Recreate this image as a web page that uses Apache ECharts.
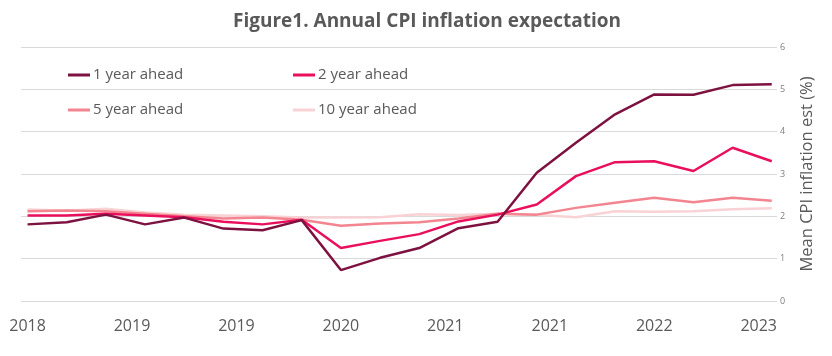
<!DOCTYPE html>
<html>
<head>
<meta charset="utf-8">
<script src="https://cdn.jsdelivr.net/npm/echarts@6/dist/echarts.min.js"></script>
<style>
html,body{margin:0;padding:0;background:#fff;}
#chart{width:832px;height:356px;}
</style>
</head>
<body>
<div id="chart"></div>
<script>
// Quarterly observations, x in months from the first observation
const xMonths = [0,3,6,9,12,15,18,21,24,27,30,33,36,39,42,45,48,51,54,57];
const tickPositions = [0,8,16,24,32,40,48,56];
const tickLabels = ['2018','2019','2019','2020','2021','2021','2022','2023'];
const seriesNames = ['1 year ahead','2 year ahead','5 year ahead','10 year ahead'];
const oneYear  = [1.81,1.86,2.04,1.81,1.97,1.71,1.67,1.91,0.73,1.02,1.25,1.72,1.87,3.03,3.74,4.41,4.88,4.87,5.10,5.12];
const twoYear  = [2.02,2.02,2.06,2.02,1.98,1.87,1.81,1.92,1.25,1.42,1.58,1.88,2.04,2.28,2.95,3.28,3.30,3.07,3.62,3.30];
const fiveYear = [2.12,2.14,2.12,2.06,2.00,1.95,1.97,1.92,1.78,1.83,1.86,1.95,2.06,2.04,2.20,2.32,2.44,2.33,2.44,2.37];
const tenYear  = [2.16,2.13,2.18,2.09,2.04,2.02,2.00,1.97,1.97,1.98,2.05,2.03,2.06,2.04,1.98,2.12,2.11,2.12,2.17,2.19];
const yTicks = [0,1,2,3,4,5,6];

const colors = ['#7d1241','#ea0f5c','#f2858f','#f9d2d5'];
const values = [oneYear, twoYear, fiveYear, tenYear];
const FONT = '"Open Sans", "Noto Sans", sans-serif';

function pairs(arr){ return arr.map((v,i)=>[xMonths[i], v]); }

const legendPos = [
  {left:68, top:66},
  {left:293, top:66},
  {left:68, top:101},
  {left:293, top:101}
];

const chart = echarts.init(document.getElementById('chart'), null, {renderer:'canvas'});
chart.setOption({
  animation:false,
  backgroundColor:'#ffffff',
  title:{
    text:'Figure1. Annual CPI inflation expectation',
    left:228, top:7,
    textStyle:{fontFamily:FONT, fontSize:19, fontWeight:'bold', color:'#595959'}
  },
  legend: seriesNames.map((n,i)=>({
    data:[n],
    left:legendPos[i].left, top:legendPos[i].top,
    padding:0,
    icon:'rect', itemWidth:22, itemHeight:3,
    textStyle:{fontFamily:FONT, fontSize:15, color:'#595959', lineHeight:18, padding:[0,0,0,-2]}
  })),
  grid:{left:21, right:55, top:47, bottom:55, containLabel:false},
  xAxis:{
    type:'value', min:-0.5, max:57.4,
    axisLine:{show:false}, axisTick:{show:false}, splitLine:{show:false},
    axisLabel:{
      customValues: tickPositions,
      formatter:(v)=>{ const k = tickPositions.indexOf(Math.round(v)); return k>=0 ? tickLabels[k] : ''; },
      fontFamily:FONT, fontSize:16, color:'#595959', margin:17
    }
  },
  yAxis:{
    type:'value', position:'right', min:yTicks[0], max:yTicks[yTicks.length-1], interval:1,
    axisLine:{show:false}, axisTick:{show:false},
    splitLine:{lineStyle:{color:'#d9d9d9', width:1}},
    axisLabel:{fontFamily:FONT, fontSize:9, color:'#7f7f7f', margin:3},
    name:'Mean CPI inflation est (%)',
    nameLocation:'middle', nameRotate:90, nameGap:22,
    nameTextStyle:{fontFamily:FONT, fontSize:16.5, color:'#595959'}
  },
  series: [3,2,1,0].map(i=>({
    name:seriesNames[i], type:'line', data:pairs(values[i]),
    showSymbol:false, symbol:'none',
    lineStyle:{color:colors[i], width:2.5},
    itemStyle:{color:colors[i]},
    z: 10 - i
  }))
});
</script>
</body>
</html>
